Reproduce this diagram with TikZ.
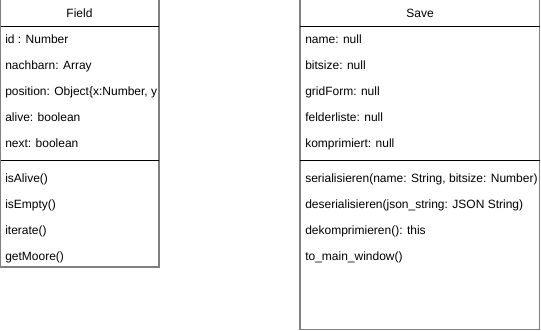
\documentclass[tikz,border=0pt]{standalone}
\usepackage{fontspec}
\setmainfont{Liberation Sans}
\begin{document}
\begin{tikzpicture}[x=0.75pt,y=-0.75pt,
  frame/.style={draw=black!50, line width=1.6*0.75pt},
  divider/.style={draw=black, line width=0.9*0.75pt},
  member/.style={anchor=base west, inner sep=0pt, font=\fontsize{9pt}{10pt}\selectfont},
  title/.style={anchor=base, inner sep=0pt, font=\fontsize{9pt}{10pt}\selectfont}]
\useasboundingbox (0,0) rectangle (541,331);

% class Field
\draw[frame] (0.5,-2) rectangle (159,267);
\draw[divider] (0.5,26) -- (159,26);
\draw[divider] (0.5,160) -- (159,160);
\node[title] (fieldname) at (79.5,17.5) {Field};
\node[member] (f1) at (5,44) {id : Number};
\node[member] (f2) at (5,70) {nachbarn: Array};
\begin{scope}
  % the long attribute is cut off at the right edge of the class
  \clip (1,27) rectangle (156.5,159);
  \node[member] (f3) at (5,96) {position: Object\{x:Number, y:Number\}};
\end{scope}
\node[member] (f4) at (5,122) {alive: boolean};
\node[member] (f5) at (5,148) {next: boolean};
\node[member] (m1) at (5,182) {isAlive()};
\node[member] (m2) at (5,208) {isEmpty()};
\node[member] (m3) at (5,234) {iterate()};
\node[member] (m4) at (5,260) {getMoore()};

% class Save
\draw[frame] (300,-2) rectangle (539.5,329.5);
\draw[divider] (300,26) -- (539.5,26);
\draw[divider] (300,160) -- (539.5,160);
\node[title] (savename) at (420,17.5) {Save};
\node[member] (s1) at (305,44) {name: null};
\node[member] (s2) at (305,70) {bitsize: null};
\node[member] (s3) at (305,96) {gridForm: null};
\node[member] (s4) at (305,122) {felderliste: null};
\node[member] (s5) at (305,148) {komprimiert: null};
\node[member] (t1) at (305,182) {serialisieren(name: String, bitsize: Number)};
\node[member] (t2) at (305,208) {deserialisieren(json\_string: JSON String)};
\node[member] (t3) at (305,234) {dekomprimieren(): this};
\node[member] (t4) at (305,260) {to\_main\_window()};
\end{tikzpicture}
\end{document}
